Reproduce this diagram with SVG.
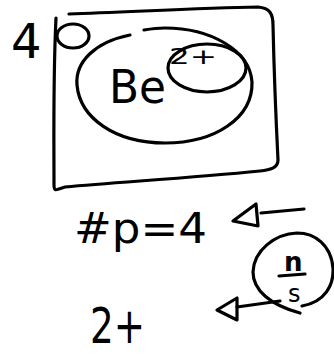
<svg xmlns="http://www.w3.org/2000/svg" width="334" height="361" viewBox="0 0 334 361">
<style>
.s{fill:none;stroke:#000;stroke-width:3.2;stroke-linecap:round;stroke-linejoin:round}
.t{font-family:"DejaVu Sans","Liberation Sans",sans-serif;fill:#000}
</style>
<rect width="334" height="361" fill="#fff"/>
<g id="box">
<path class="s" d="M69,14 C130,12 200,8 258,7 C270,8 273,14 273,25 C274,70 276,120 278,160 C278,168 270,170 260,171 C190,178 120,182 65,187 C56,190 54,192 54,185 C54,140 53,80 56,18"/>
</g>
<g id="label-4">
<text class="t" x="11" y="58" font-size="48">4</text>
</g>
<g id="small-circle">
<ellipse class="s" cx="73" cy="36" rx="16" ry="12"/>
</g>
<g id="atom">
<path class="s" d="M130,35 C95,42 75,62 77,85 C80,118 115,143 165,143 C215,143 253,118 252,82 C250,50 210,28 165,28 C157,28 150,29 144,30"/>
<ellipse class="s" cx="207" cy="68" rx="39" ry="24"/>
<text class="t" x="109" y="103" font-size="46" textLength="57" lengthAdjust="spacingAndGlyphs">Be</text>
<text class="t" x="169" y="64" font-size="22" textLength="48" lengthAdjust="spacingAndGlyphs">2+</text>
</g>
<g id="protons">
<text class="t" x="74" y="243" font-size="42" textLength="133" lengthAdjust="spacingAndGlyphs">#p=4</text>
</g>
<g id="charge">
<text class="t" x="90" y="343" font-size="50" textLength="55" lengthAdjust="spacingAndGlyphs">2+</text>
</g>
<g id="ns">
<path class="s" d="M302,306 C325,302 334,285 333,268 C331,245 315,233 297,233 C275,234 254,250 253,272 C253,290 270,305 300,313"/>
<text class="t" x="284" y="271" font-size="26" font-weight="bold">n</text>
<line class="s" x1="279" y1="276" x2="305" y2="274"/>
<text class="t" x="288" y="302" font-size="24">s</text>
</g>
<g id="connectors">
<path class="s" d="M304,209 L261,213"/>
<path class="s" d="M258,226 L233,221 L256,204 Z"/>
<path class="s" d="M280,301 L237,307"/>
<path class="s" d="M237,320 L217,310 L237,298 Z"/>
</g>
</svg>
